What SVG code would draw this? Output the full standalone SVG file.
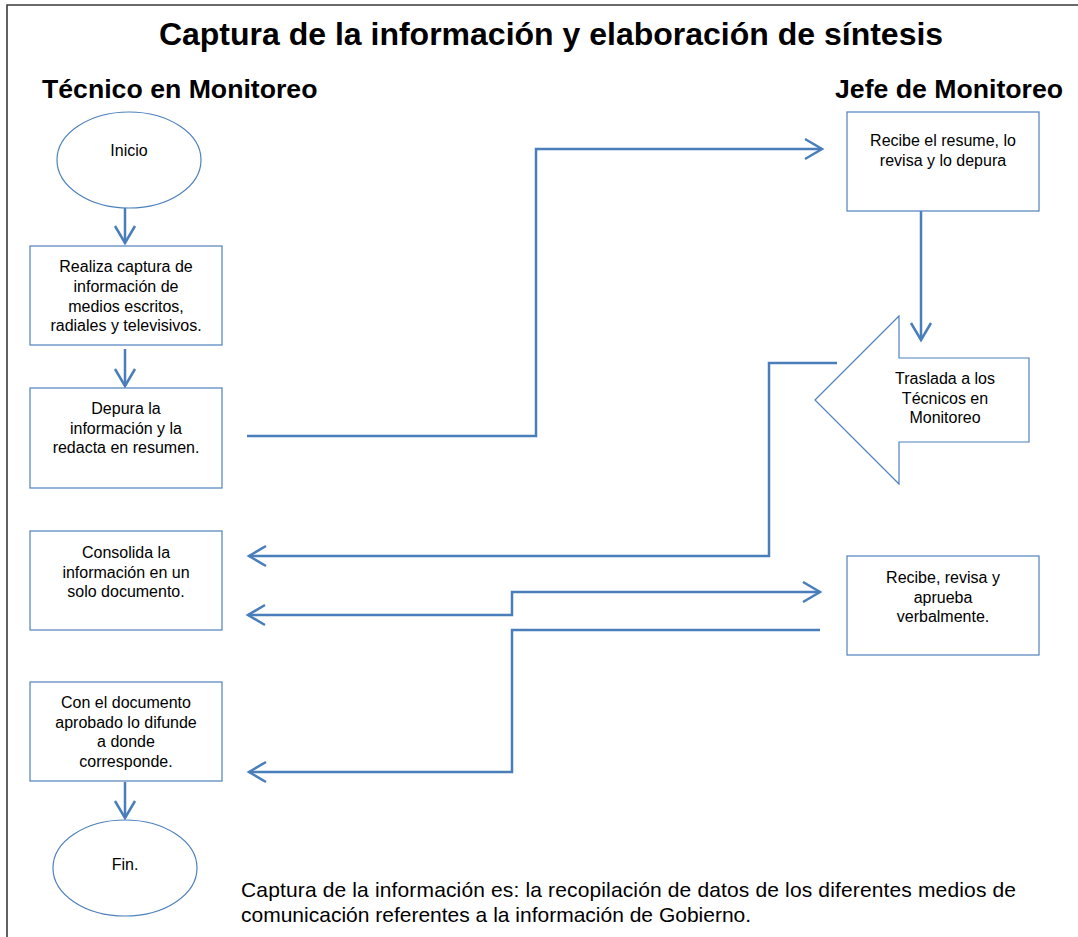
<svg xmlns="http://www.w3.org/2000/svg" width="1078" height="937" viewBox="0 0 1078 937">
<style>
  .shape { fill: #ffffff; stroke: #4f81bd; stroke-width: 1.2; }
  .conn { fill: none; stroke: #4a7ebb; stroke-width: 2.5; }
  .lbl { font-family: "Liberation Sans", Arial, sans-serif; font-size: 16px; fill: #000; text-anchor: middle; }
  .h1 { font-family: "Liberation Sans", Arial, sans-serif; font-size: 32px; font-weight: bold; fill: #000; text-anchor: middle; }
  .h2 { font-family: "Liberation Sans", Arial, sans-serif; font-size: 26.67px; font-weight: bold; fill: #000; }
  .note { font-family: "Liberation Sans", Arial, sans-serif; font-size: 21px; fill: #000; }
</style>
<defs>
  <marker id="arr" markerUnits="userSpaceOnUse" markerWidth="30" markerHeight="30" refX="0" refY="0" viewBox="-20 -15 30 30" orient="auto-start-reverse" overflow="visible">
    <path d="M -17 -10 L 0 0 L -17 10" fill="none" stroke="#4a7ebb" stroke-width="2.5"/>
  </marker>
</defs>
<rect x="0" y="0" width="1078" height="937" fill="#ffffff"/>
<path d="M 7 937 V 5 H 1078" fill="none" stroke="#3a3a3a" stroke-width="1.6"/>

<text class="h1" x="551" y="45">Captura de la información y elaboración de síntesis</text>
<text class="h2" x="42" y="98">Técnico en Monitoreo</text>
<text class="h2" x="835" y="98">Jefe de Monitoreo</text>

<g id="connectors">
  <path class="conn" d="M 125 208 V 243" marker-end="url(#arr)"/>
  <path class="conn" d="M 125 349 V 386" marker-end="url(#arr)"/>
  <path class="conn" d="M 247 436 H 536 V 149 H 822" marker-end="url(#arr)"/>
  <path class="conn" d="M 921 211 V 340" marker-end="url(#arr)"/>
  <path class="conn" d="M 837 363 H 769 V 556 H 249" marker-end="url(#arr)"/>
  <path class="conn" d="M 248 615 H 512 V 592 H 820" marker-start="url(#arr)" marker-end="url(#arr)"/>
  <path class="conn" d="M 820 630 H 512 V 772 H 249" marker-end="url(#arr)"/>
  <path class="conn" d="M 125 782 V 818" marker-end="url(#arr)"/>
</g>

<g id="inicio">
  <ellipse class="shape" cx="129" cy="160" rx="72" ry="48"/>
  <text class="lbl" x="129" y="156">Inicio</text>
</g>

<g id="realiza">
  <rect class="shape" x="30" y="246" width="192" height="99"/>
  <text class="lbl" x="126" y="272">Realiza captura de</text>
  <text class="lbl" x="126" y="292">información de</text>
  <text class="lbl" x="126" y="312">medios escritos,</text>
  <text class="lbl" x="126" y="331">radiales y televisivos.</text>
</g>

<g id="depura">
  <rect class="shape" x="30" y="388" width="192" height="100"/>
  <text class="lbl" x="126" y="414">Depura la</text>
  <text class="lbl" x="126" y="434">información y la</text>
  <text class="lbl" x="126" y="453">redacta en resumen.</text>
</g>

<g id="consolida">
  <rect class="shape" x="30" y="531" width="192" height="99"/>
  <text class="lbl" x="126" y="558">Consolida la</text>
  <text class="lbl" x="126" y="578">información en un</text>
  <text class="lbl" x="126" y="597">solo documento.</text>
</g>

<g id="difunde">
  <rect class="shape" x="30" y="682" width="192" height="99"/>
  <text class="lbl" x="126" y="708">Con el documento</text>
  <text class="lbl" x="126" y="728">aprobado lo difunde</text>
  <text class="lbl" x="126" y="747">a donde</text>
  <text class="lbl" x="126" y="767">corresponde.</text>
</g>

<g id="fin">
  <ellipse class="shape" cx="125" cy="868" rx="72" ry="48"/>
  <text class="lbl" x="125" y="870">Fin.</text>
</g>

<g id="recibe">
  <rect class="shape" x="847" y="112" width="192" height="99"/>
  <text class="lbl" x="943" y="146">Recibe el resume, lo</text>
  <text class="lbl" x="943" y="166">revisa y lo depura</text>
</g>

<g id="traslada">
  <polygon class="shape" points="815,400 899,316 899,358 1029,358 1029,442 899,442 899,484"/>
  <text class="lbl" x="945" y="384">Traslada a los</text>
  <text class="lbl" x="945" y="404">Técnicos en</text>
  <text class="lbl" x="945" y="423">Monitoreo</text>
</g>

<g id="aprueba">
  <rect class="shape" x="847" y="556" width="192" height="99"/>
  <text class="lbl" x="943" y="583">Recibe, revisa y</text>
  <text class="lbl" x="943" y="603">aprueba</text>
  <text class="lbl" x="943" y="622">verbalmente.</text>
</g>

<text class="note" x="241" y="897" textLength="775" lengthAdjust="spacing">Captura de la información es: la recopilación de datos de los diferentes medios de</text>
<text class="note" x="241" y="922">comunicación referentes a la información de Gobierno.</text>
</svg>
